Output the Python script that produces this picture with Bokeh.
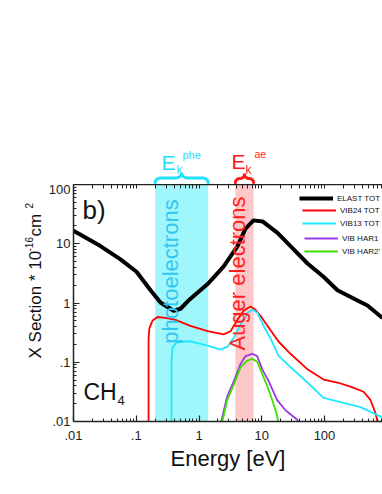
import numpy as np
from bokeh.plotting import figure
from bokeh.layouts import row, column
from bokeh.models import (Range1d, LogAxis, FixedTicker, CustomJSTickFormatter, BoxAnnotation,
                          Label, Legend, LegendItem)
from bokeh.embed import file_html
from bokeh.resources import INLINE

# ---------------- data ----------------
elast_e = [0.01, 0.0269, 0.0561, 0.101, 0.169, 0.243, 0.393, 0.507, 0.68, 1.37, 2.46, 4.11,
           5.51, 7.39, 10.3, 17.8, 28.7, 53.6, 96.4, 161, 336, 484, 840]
elast_v = [16.6, 9.14, 5.44, 3.37, 1.64, 1.02, 0.74, 0.80, 1.10, 2.09, 4.12, 9.14,
           18.0, 24.8, 23.8, 15.3, 9.14, 4.64, 2.77, 1.64, 1.10, 0.906, 0.56]

vib24_e = [0.157, 0.157, 0.162, 0.181, 0.218, 0.292, 0.422, 0.732, 1.37, 2.46, 3.18, 4.11,
           5.12, 6.62, 7.95, 9.55, 13.8, 18.5, 28.7, 53.6, 96.4, 161, 259, 419, 541, 650, 700]
vib24_v = [0.01, 0.253, 0.377, 0.50, 0.58, 0.56, 0.52, 0.41, 0.334, 0.296, 0.334, 0.52,
           0.74, 0.87, 0.77, 0.61, 0.348, 0.224, 0.139, 0.076, 0.051, 0.0455, 0.0388, 0.0318,
           0.0231, 0.0138, 0.01]

vib13_e = [0.365, 0.365, 0.378, 0.438, 0.61, 0.732, 1.37, 2.2, 2.85, 3.55, 4.58, 5.93, 7.13,
           8.55, 10.7, 13.8, 18.5, 28.7, 53.6, 96.4, 180, 375, 840]
vib13_v = [0.01, 0.114, 0.177, 0.215, 0.224, 0.224, 0.191, 0.163, 0.184, 0.253, 0.425, 0.684,
           0.77, 0.684, 0.41, 0.253, 0.128, 0.083, 0.0455, 0.025, 0.0213, 0.0175, 0.0117]

har1_e = [2.26, 2.81, 3.59, 4.58, 5.5, 7.05, 8.46, 10.2, 12.9, 17.6, 23.9, 36.7, 38.5]
har1_v = [0.01, 0.0264, 0.048, 0.093, 0.127, 0.139, 0.127, 0.076, 0.048, 0.023, 0.0155, 0.0107, 0.01]

har2_e = [2.35, 2.81, 3.59, 4.58, 5.85, 7.05, 8.46, 10.2, 12.3, 14.7, 17.2, 18.3]
har2_v = [0.01, 0.023, 0.042, 0.082, 0.106, 0.114, 0.102, 0.063, 0.039, 0.023, 0.0136, 0.01]

phe_band = [0.2, 1.4]     # photoelectron energy range [eV]
ae_band = [3.8, 7.4]      # Auger electron energy range [eV]

x_ticks = [0.01, 0.1, 1, 10, 100]
y_ticks = [0.01, 0.1, 1, 10, 100]
minor = [m * 10.0 ** k for k in range(-3, 3) for m in range(2, 10)]

FONT = "Liberation Sans"
X_RANGE = Range1d(0.01, 840)
TOP_H = 184          # height of the strip above the main plot

# ---------------- main plot ----------------
p = figure(width=337, height=494 - TOP_H, x_axis_type="log", y_axis_type="log",
           x_range=X_RANGE, y_range=Range1d(0.01, 100),
           output_backend="svg", toolbar_location=None,
           min_border_left=28, min_border_right=0, min_border_top=0, min_border_bottom=73)
p.grid.visible = False
p.outline_line_color = None
p.background_fill_color = "white"
p.border_fill_color = "white"

fmt = CustomJSTickFormatter(code="return String(tick).replace(/^0\\./, '.');")

def style_axis(ax, ticks, minors):
    ax.ticker = FixedTicker(ticks=ticks, minor_ticks=minors)
    ax.formatter = fmt
    ax.major_tick_in = 6
    ax.major_tick_out = 0
    ax.minor_tick_in = 3
    ax.minor_tick_out = 0
    ax.axis_line_width = 1.5
    ax.axis_line_color = "#222222"
    ax.major_tick_line_color = "#222222"
    ax.minor_tick_line_color = "#222222"
    ax.major_tick_line_width = 1.2
    ax.minor_tick_line_width = 1
    ax.major_label_text_font = FONT
    ax.major_label_text_font_size = "13px"
    ax.major_label_text_color = "#222222"

style_axis(p.xaxis[0], x_ticks, minor)
style_axis(p.yaxis[0], y_ticks, minor)
p.xaxis[0].major_label_standoff = 9
p.yaxis[0].major_label_standoff = 3
p.xaxis[0].axis_label = "Energy [eV]"
p.xaxis[0].axis_label_text_font = FONT
p.xaxis[0].axis_label_text_font_size = "22px"
p.xaxis[0].axis_label_text_font_style = "normal"
p.xaxis[0].axis_label_text_color = "#111111"
p.xaxis[0].axis_label_standoff = 3

# top axis: ticks only (no labels)
top = LogAxis()
style_axis(top, [1e-6], minor + x_ticks)
top.minor_tick_in = 4
top.major_label_standoff = 0
p.add_layout(top, "above")

# bands
p.add_layout(BoxAnnotation(left=phe_band[0], right=phe_band[1], fill_color="#a0f7fb",
                           fill_alpha=1, line_alpha=0, level="underlay"))
p.add_layout(BoxAnnotation(left=ae_band[0], right=ae_band[1], fill_color="#ffc8c8",
                           fill_alpha=1, line_alpha=0, level="underlay"))

# curves
r_el = p.line(elast_e, elast_v, line_color="black", line_width=4, line_join="round")
r_24 = p.line(vib24_e, vib24_v, line_color="#ff0000", line_width=1.8, line_join="round")
r_13 = p.line(vib13_e, vib13_v, line_color="#1ee8ff", line_width=1.8, line_join="round")
r_h1 = p.line(har1_e, har1_v, line_color="#9a3ae6", line_width=1.8, line_join="round")
r_h2 = p.line(har2_e, har2_v, line_color="#3de000", line_width=1.8, line_join="round")

# legend rows
rows = [(r_el, "ELAST TOT", 226, 218), (r_24, "VIB24 TOT", 229, 206),
        (r_13, "VIB13 TOT", 229, 193), (r_h1, "VIB HAR1", 231, 178),
        (r_h2, "VIB HAR2'", 231, 165)]
for r, lab_, lx, ly in rows:
    lg = Legend(items=[LegendItem(label=lab_, renderers=[r])], location=(lx, ly),
                padding=0, margin=0, spacing=0, glyph_width=34, glyph_height=10,
                label_height=10, label_standoff=4, label_text_font=FONT,
                label_text_font_size="8px", label_text_color="#111111",
                border_line_alpha=0, background_fill_alpha=0)
    p.add_layout(lg)

def lab(f, text, x, y, size, color="#111111", angle=0.0, align="left"):
    f.add_layout(Label(x=x, y=y, x_units="screen", y_units="screen", text=text,
                       text_font=FONT, text_font_size=size, text_color=color,
                       angle=angle, text_align=align, text_baseline="middle"))

lab(p, "b)", 9, 212, "26px")
lab(p, "CH", 10, 30, "23px")
lab(p, "4", 44, 21, "13px")
lab(p, "photoelectrons", 97, 150, "22px", color="#33c6f2", angle=np.pi / 2, align="center")
lab(p, "Auger electrons", 164, 148, "22px", color="#ff2020", angle=np.pi / 2, align="center")

# ---------------- strips around the main plot ----------------
def strip(width, height, x_range, x_axis_type="linear"):
    f = figure(width=width, height=height, x_range=x_range, y_range=Range1d(0, height),
               x_axis_type=x_axis_type, output_backend="svg", toolbar_location=None,
               x_axis_location=None, y_axis_location=None, min_border_left=0,
               min_border_right=0, min_border_top=0, min_border_bottom=0)
    f.grid.visible = False
    f.outline_line_color = None
    f.background_fill_color = "white"
    f.border_fill_color = "white"
    return f

# top strip: E_k labels and braces (y measured from the strip's bottom)
t = strip(337, TOP_H, X_RANGE, "log")
t.min_border_left = 28
CY, RD = "#22dcff", "#ff1a1a"
lab(t, "E", 88, 22, "21px", CY)
lab(t, "k", 103, 15, "12px", CY)
lab(t, "phe", 109, 30, "11px", CY)
lab(t, "E", 158, 23, "21px", RD)
lab(t, "k", 172, 15, "12px", RD)
lab(t, "ae", 181, 31, "10.5px", RD)

def brace(f, lo, hi, e, color, y_end=2, y_bar=6.5, y_tip=12, n=120):
    a, b = np.log10(lo), np.log10(hi)
    tt = np.linspace(0, 1, n)
    s = np.minimum(tt, 1 - tt) * 2
    u1 = np.clip(1 - s / e, 0, 1)
    u2 = np.clip((s - (1 - e)) / e, 0, 1)
    ys = y_bar + (y_end - y_bar) * (1 - np.sqrt(1 - u1 ** 2)) + (y_tip - y_bar) * (1 - np.sqrt(1 - u2 ** 2))
    xs = 10 ** (a + tt * (b - a))
    f.line(xs, ys, line_color=color, line_width=3, line_cap="round", line_join="round")

brace(t, phe_band[0], phe_band[1], 0.22, "#22e0ff")
brace(t, ae_band[0], ae_band[1], 0.5, RD, y_bar=6, y_tip=10.5)

# left strip: y-axis title with superscripts
lf = strip(45, 494, Range1d(0, 45))
lab(lf, "X Section * 10", 35, 136, "17px", angle=np.pi / 2)
lab(lf, "-16", 28, 243, "10px", angle=np.pi / 2)
lab(lf, " cm", 35, 258, "17px", angle=np.pi / 2)
lab(lf, "2", 28, 286, "10px", angle=np.pi / 2)

layout = row(lf, column(t, p, spacing=0), spacing=0)
open("out.html", "w").write(file_html(layout, INLINE))
